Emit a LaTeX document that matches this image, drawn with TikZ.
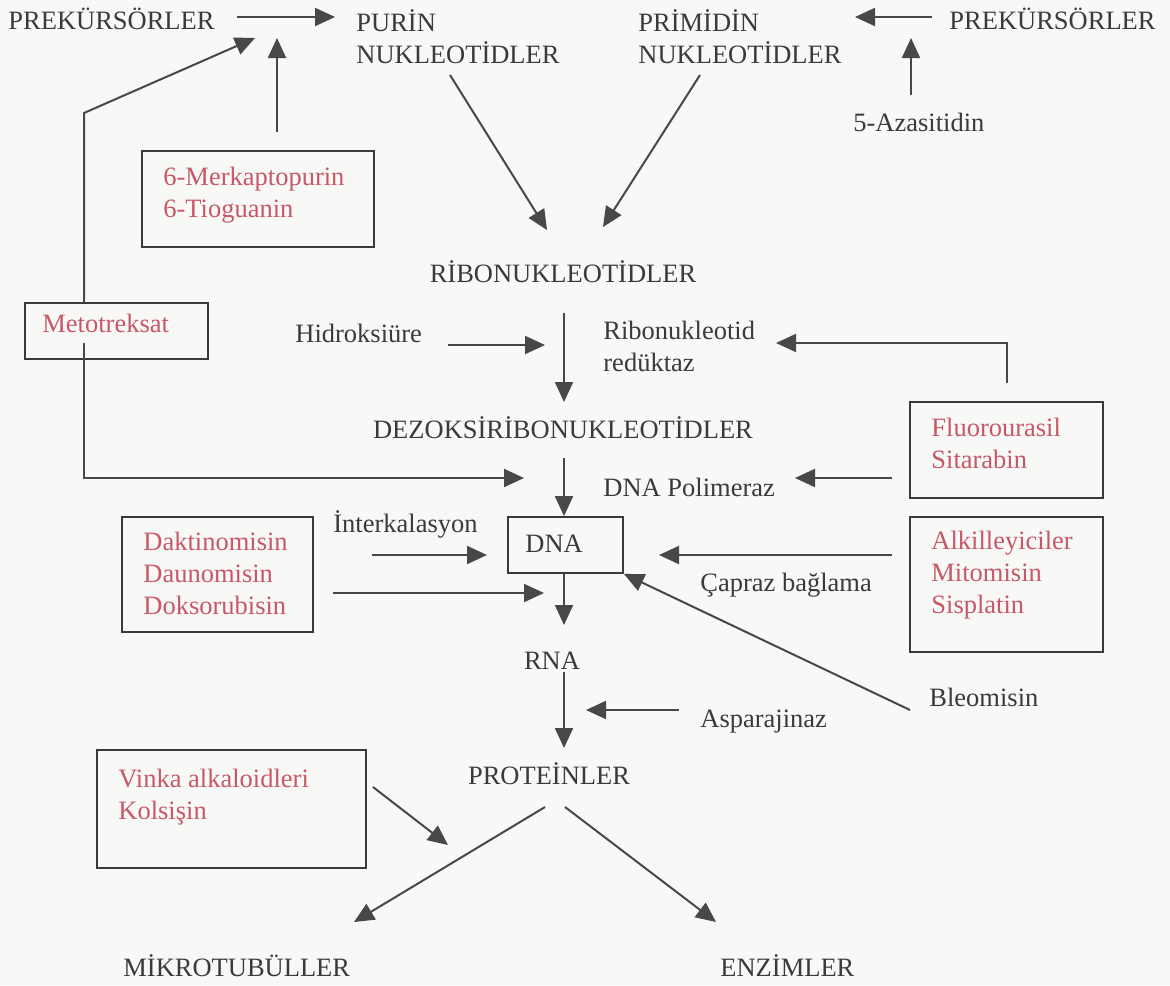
\documentclass[tikz,border=0pt]{standalone}
\usepackage{fontspec}
\setmainfont{Liberation Serif}
\usetikzlibrary{arrows.meta,fit}
\definecolor{ink}{RGB}{58,58,58}
\definecolor{drugred}{RGB}{200,88,102}
\definecolor{wire}{RGB}{72,72,72}
\definecolor{paper}{RGB}{248,248,246}
\tikzset{
  lbl/.style={text=ink, inner sep=0pt, anchor=base west, align=left},
  mid/.style={text=ink, inner sep=0pt, anchor=base},
  drug/.style={lbl, text=drugred},
  drugbox/.style={draw=ink, line width=0.9pt, inner sep=0pt},
  arr/.style={draw=wire, line width=1pt, -{Triangle[length=10pt,width=9pt]}},
  wireline/.style={draw=wire, line width=1pt}
}
\begin{document}
\begin{tikzpicture}[x=0.5pt, y=-0.5pt, font=\fontsize{13.25}{16}\selectfont]
    \fill[paper] (0,0) rectangle (1170,985);
    \useasboundingbox (0,0) rectangle (1170,985);
    % top row (multi-line nodes sit on their last line)
    \node[lbl] (prekL) at (8,29) {PREKÜRSÖRLER};
    \node[lbl] (purin) at (356,63) {PURİN\\NUKLEOTİDLER};
    \node[lbl] (primidin) at (638,63) {PRİMİDİN\\NUKLEOTİDLER};
    \node[lbl] (prekR) at (949,29) {PREKÜRSÖRLER};
    \node[lbl] (azasit) at (853,131) {5-Azasitidin};
    \node[drugbox, fit={(142,151) (374,247)}] (mpbox) {};
    \node[drug] (mp) at (163,217) {6-Merkaptopurin\\6-Tioguanin};
    % main chain
    \node[mid] (ribo) at (563,282) {RİBONUKLEOTİDLER};
    \node[lbl] (hidroks) at (295,342) {Hidroksiüre};
    \node[lbl] (rnr) at (603,371) {Ribonukleotid\\redüktaz};
    \node[mid] (dezoksi) at (563,438) {DEZOKSİRİBONUKLEOTİDLER};
    \node[lbl] (dnapol) at (603,496) {DNA Polimeraz};
    \node[drugbox, fit={(508,517) (623,573)}] (dna) {};
    \node[lbl] (dnatxt) at (525,552) {DNA};
    \node[lbl] (interkal) at (333,532) {İnterkalasyon};
    \node[lbl] (capraz) at (700,591) {Çapraz bağlama};
    \node[lbl] (bleo) at (929,706) {Bleomisin};
    \node[mid] (rna) at (552,669) {RNA};
    \node[lbl] (aspar) at (700,727) {Asparajinaz};
    \node[mid] (prot) at (549,784) {PROTEİNLER};
    \node[lbl] (mikro) at (123,976) {MİKROTUBÜLLER};
    \node[lbl] (enz) at (720,976) {ENZİMLER};
    % drug boxes
    \node[drugbox, fit={(25,303) (208,359)}] (mtxbox) {};
    \node[drug] (mtx) at (42,332) {Metotreksat};
    \node[drugbox, fit={(910,402) (1103,498)}] (fubox) {};
    \node[drug] (fu) at (931,468) {Fluorourasil\\Sitarabin};
    \node[drugbox, fit={(122,517) (313,632)}] (daktbox) {};
    \node[drug] (dakt) at (143,614) {Daktinomisin\\Daunomisin\\Doksorubisin};
    \node[drugbox, fit={(910,517) (1103,652)}] (alkbox) {};
    \node[drug] (alk) at (931,613) {Alkilleyiciler\\Mitomisin\\Sisplatin};
    \node[drugbox, fit={(97,750) (366,868)}] (vinkabox) {};
    \node[drug] (vinka) at (118,819) {Vinka alkaloidleri\\Kolsişin};
    % free ends of the connectors
    \coordinate (prekL-out) at (237,17);
    \coordinate (purin-in) at (335,17);
    \coordinate (mp-out) at (277,132);
    \coordinate (mp-tip) at (277,38);
    \coordinate (mtx-bend1) at (84,113);
    \coordinate (mtx-tip1) at (255,38);
    \coordinate (mtx-low) at (84,343);
    \coordinate (mtx-bend2) at (84,478);
    \coordinate (mtx-tip2) at (524,478);
    \coordinate (purin-out) at (450,75);
    \coordinate (ribo-in1) at (547,230);
    \coordinate (prim-out) at (700,75);
    \coordinate (ribo-in2) at (603,227);
    \coordinate (prekR-out) at (932,17);
    \coordinate (prim-in) at (855,17);
    \coordinate (aza-out) at (911,95);
    \coordinate (aza-tip) at (911,38);
    \coordinate (ribo-out) at (564,313);
    \coordinate (dez-in) at (564,402);
    \coordinate (hu-out) at (448,345);
    \coordinate (hu-tip) at (545,345);
    \coordinate (fu-up) at (1007,383);
    \coordinate (fu-bend) at (1007,343);
    \coordinate (rnr-tip) at (776,343);
    \coordinate (dez-out) at (564,458);
    \coordinate (fu-out) at (892,478);
    \coordinate (pol-tip) at (795,478);
    \coordinate (ik-out) at (372,555);
    \coordinate (ik-tip) at (487,555);
    \coordinate (dakt-out) at (333,593);
    \coordinate (dakt-tip) at (544,593);
    \coordinate (alk-out) at (892,555);
    \coordinate (alk-tip) at (659,555);
    \coordinate (bleo-out) at (910,710);
    \coordinate (rna-in) at (564,625);
    \coordinate (rna-out) at (564,672);
    \coordinate (prot-in) at (564,748);
    \coordinate (asp-out) at (679,710);
    \coordinate (asp-tip) at (586,710);
    \coordinate (vinka-out) at (373,787);
    \coordinate (vinka-tip) at (448,845);
    \coordinate (prot-out1) at (545,807);
    \coordinate (mikro-in) at (354,922);
    \coordinate (prot-out2) at (565,807);
    \coordinate (enz-in) at (716,922);
    % connectors
    \draw[arr] (prekL-out) -- (purin-in);
    \draw[arr] (mp-out) -- (mp-tip);
    \draw[arr] (mtxbox.north -| mtx-bend1) -- (mtx-bend1) -- (mtx-tip1);
    \draw[arr] (mtx-low) -- (mtx-bend2) -- (mtx-tip2);
    \draw[arr] (purin-out) -- (ribo-in1);
    \draw[arr] (prim-out) -- (ribo-in2);
    \draw[arr] (prekR-out) -- (prim-in);
    \draw[arr] (aza-out) -- (aza-tip);
    \draw[arr] (ribo-out) -- (dez-in);
    \draw[arr] (hu-out) -- (hu-tip);
    \draw[arr] (fu-up) -- (fu-bend) -- (rnr-tip);
    \draw[arr] (dez-out) -- (dez-out |- dna.north);
    \draw[arr] (fu-out) -- (pol-tip);
    \draw[arr] (ik-out) -- (ik-tip);
    \draw[arr] (dakt-out) -- (dakt-tip);
    \draw[arr] (alk-out) -- (alk-tip);
    \draw[arr] (bleo-out) -- (dna.south east);
    \draw[arr] (dez-out |- dna.south) -- (rna-in);
    \draw[arr] (rna-out) -- (prot-in);
    \draw[arr] (asp-out) -- (asp-tip);
    \draw[arr] (vinka-out) -- (vinka-tip);
    \draw[arr] (prot-out1) -- (mikro-in);
    \draw[arr] (prot-out2) -- (enz-in);
\end{tikzpicture}
\end{document}
